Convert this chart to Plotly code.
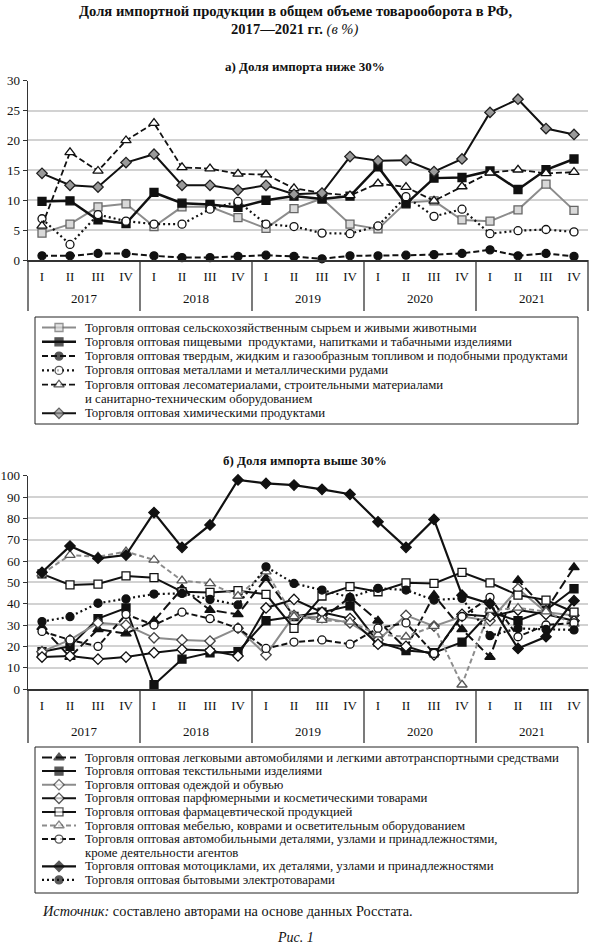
import plotly.graph_objects as go

W, H = 590, 948
FONT = "Liberation Serif"

years = ["2017", "2018", "2019", "2020", "2021"]
quarters = ["I", "II", "III", "IV"]

# ---- Chart a: import share below 30% ----
agri = [4.5, 6.0, 8.9, 9.4, 5.6, 8.9, 8.9, 7.1, 5.3, 8.6, 10.3, 6.0, 5.2, 9.6, 9.9, 6.7, 6.5, 8.4, 12.7, 8.3]
food = [9.8, 9.9, 6.7, 6.1, 11.3, 9.5, 9.3, 8.8, 10.0, 10.7, 10.2, 10.7, 15.6, 9.4, 13.7, 13.8, 14.9, 11.8, 15.1, 16.9]
fuel = [0.7, 0.7, 1.1, 1.1, 0.7, 0.4, 0.4, 0.6, 0.8, 0.6, 0.2, 0.7, 0.7, 0.8, 0.9, 1.1, 1.7, 0.7, 1.1, 0.6]
metals = [6.9, 2.6, 7.6, 6.5, 6.0, 6.0, 8.5, 9.8, 6.0, 5.6, 4.5, 4.4, 5.7, 10.6, 7.3, 8.5, 4.4, 4.9, 5.1, 4.7]
timber = [5.7, 18.0, 14.9, 20.0, 22.9, 15.5, 15.3, 14.4, 14.3, 12.0, 11.2, 10.8, 12.8, 12.2, 9.9, 12.3, 14.6, 15.1, 14.5, 14.7]
chem = [14.5, 12.5, 12.2, 16.3, 17.7, 12.5, 12.5, 11.7, 12.5, 11.0, 11.2, 17.3, 16.6, 16.7, 14.8, 16.9, 24.7, 26.9, 22.0, 21.0]

# ---- Chart b: import share above 30% ----
cars = [29, 15, 28, 26, 32, 47, 37, 35, 52, 34, 33, 43, 32, 19, 44, 28, 15, 51, 37, 57]
textiles = [17.5, 20, 33, 38, 2, 14, 17, 17.5, 32, 34, 36, 39, 22, 18, 17, 22, 36, 32, 37, 47]
clothing = [17.5, 23, 31, 30, 24, 23, 22.5, 28.5, 16, 34.5, 33.5, 31, 23, 34.5, 29.5, 34, 32, 47, 36, 34.5]
perfume = [15, 15.5, 14, 15, 17, 18.5, 18, 15.5, 38, 42, 36, 33, 21, 20, 16, 35, 34, 37, 35, 32]
pharma = [54, 48.8, 49.2, 53, 52.2, 45.6, 45.3, 46.1, 44.4, 28.4, 43.6, 48, 45.6, 49.8, 49.5, 54.7, 49.8, 44, 41.7, 36]
furniture = [54, 62.8, 62, 64.4, 60.5, 50.8, 49.5, 43.6, 55, 34, 32.3, 31.5, 25.5, 24.5, 29.5, 2, 37, 38, 36.3, 30.5]
car_parts = [27, 23, 20, 35, 30, 36, 33, 28.5, 19, 22, 23, 21, 28.5, 31, 16.7, 34, 43, 24.5, 30, 31]
motorcycles = [54.7, 67, 61.3, 62.8, 82.7, 66.4, 76.9, 98, 96.4, 95.6, 93.6, 91.3, 78.4, 66.4, 79.5, 44, 40, 19, 24.5, 41.4]
appliances = [31.6, 33.9, 40.2, 42.2, 44.5, 44.8, 42, 39.4, 57.3, 49.5, 46.4, 43, 47.2, 46.4, 41.7, 42.5, 25, 28.4, 28, 27.7]

names_a = [
    ["Торговля оптовая сельскохозяйственным сырьем и живыми животными"],
    ["Торговля оптовая пищевыми  продуктами, напитками и табачными изделиями"],
    ["Торговля оптовая твердым, жидким и газообразным топливом и подобными продуктами"],
    ["Торговля оптовая металлами и металлическими рудами"],
    ["Торговля оптовая лесоматериалами, строительными материалами",
     "и санитарно-техническим оборудованием"],
    ["Торговля оптовая химическими продуктами"],
]
names_b = [
    ["Торговля оптовая легковыми автомобилями и легкими автотранспортными средствами"],
    ["Торговля оптовая текстильными изделиями"],
    ["Торговля оптовая одеждой и обувью"],
    ["Торговля оптовая парфюмерными и косметическими товарами"],
    ["Торговля оптовая фармацевтической продукцией"],
    ["Торговля оптовая мебелью, коврами и осветительным оборудованием"],
    ["Торговля оптовая автомобильными деталями, узлами и принадлежностями,",
     "кроме деятельности агентов"],
    ["Торговля оптовая мотоциклами, их деталями, узлами и принадлежностями"],
    ["Торговля оптовая бытовыми электротоварами"],
]

BLACK = "#111111"
GRAY = "#8c8c8c"

# style: (line color, line width, dash, marker symbol, marker fill, marker outline)
styles_a = [
    (GRAY, 2, "solid", "square", "#d9d9d9", "#666666"),
    (BLACK, 2.5, "solid", "square", BLACK, BLACK),
    (BLACK, 2, "6px,3px", "circle", BLACK, BLACK),
    (BLACK, 2.2, "2px,3px", "circle", "white", BLACK),
    (BLACK, 1.8, "6px,3px", "triangle-up", "white", BLACK),
    (BLACK, 2, "solid", "diamond", "#9a9a9a", "#222222"),
]
styles_b = [
    (BLACK, 2, "10px,4px", "triangle-up", BLACK, BLACK),
    (BLACK, 2, "solid", "square", BLACK, BLACK),
    (GRAY, 2, "solid", "diamond", "white", "#444444"),
    (BLACK, 2, "solid", "diamond", "white", BLACK),
    (BLACK, 2, "solid", "square", "white", BLACK),
    (GRAY, 2, "5px,3px", "triangle-up", "white", "#555555"),
    (BLACK, 2, "6px,3px", "circle", "white", BLACK),
    (BLACK, 2.2, "solid", "diamond", BLACK, BLACK),
    (BLACK, 2.2, "2px,3px", "circle", BLACK, BLACK),
]

series_a = [agri, food, fuel, metals, timber, chem]
series_b = [cars, textiles, clothing, perfume, pharma, furniture, car_parts, motorcycles, appliances]

qlabels = [q for y in years for q in quarters]
xidx = list(range(len(qlabels)))
NQ = len(quarters)
N = len(qlabels)


def px(x):
    return x / W


def py(y):
    return 1 - y / H


fig = go.Figure()


def msize(sym):
    return 9 if sym == "triangle-up" else 8


def add_series(vals, st, xa, ya, name):
    lc, lw, dash, sym, fill, outline = st
    fig.add_trace(go.Scatter(
        x=xidx, y=vals, xaxis=xa, yaxis=ya, mode="lines+markers", name=name,
        line=dict(color=lc, width=lw, dash=dash),
        marker=dict(symbol=sym, size=msize(sym), color=fill, line=dict(color=outline, width=1.3)),
        showlegend=False, cliponaxis=False,
    ))


for vals, st, nm in zip(series_a, styles_a, names_a):
    add_series(vals, st, "x", "y", " ".join(nm))
for vals, st, nm in zip(series_b, styles_b, names_b):
    add_series(vals, st, "x2", "y2", " ".join(nm))

annotations = []
shapes = []
TXT = 12.8


def build_legend(names, styles, top, step, box):
    x0, y0, x1, y1 = box
    shapes.append(dict(type="rect", xref="paper", yref="paper",
                       x0=px(x0), x1=px(x1), y0=py(y0), y1=py(y1),
                       line=dict(color="#222222", width=1), fillcolor="rgba(0,0,0,0)"))
    row = 0
    for nm, st in zip(names, styles):
        lc, lw, dash, sym, fill, outline = st
        yy = top + row * step
        fig.add_trace(go.Scatter(
            x=[42, 59, 76], y=[yy, yy, yy], xaxis="x3", yaxis="y3", mode="lines+markers",
            line=dict(color=lc, width=lw, dash=dash),
            marker=dict(symbol=sym, size=[0, msize(sym), 0], color=fill,
                        line=dict(color=outline, width=1.3)),
            showlegend=False, hoverinfo="skip", cliponaxis=False,
        ))
        for line_text in nm:
            annotations.append(dict(
                text=line_text, x=px(83), y=py(top + row * step), xref="paper", yref="paper",
                xanchor="left", yanchor="middle", showarrow=False,
                font=dict(family=FONT, size=TXT, color=BLACK)))
            row += 1


build_legend(names_a, styles_a, 327.5, 14.3, (35, 317, 578, 424))
build_legend(names_b, styles_b, 757.5, 13.6, (35, 747, 578, 893))


def category_frame(xa, axis_y, yr_y, bottom_y):
    # year labels and group dividers of the two-level category axis
    for k, yr in enumerate(years):
        annotations.append(dict(
            text=yr, x=(k * NQ + NQ / 2) / N, y=py(yr_y), xref=xa + " domain", yref="paper",
            xanchor="center", yanchor="middle", showarrow=False,
            font=dict(family=FONT, size=13, color=BLACK)))
    for k in range(len(years) + 1):
        shapes.append(dict(type="line", xref=xa + " domain", yref="paper",
                           x0=k * NQ / N, x1=k * NQ / N, y0=py(axis_y), y1=py(bottom_y),
                           line=dict(color="#333333", width=1.3)))


category_frame("x", 260, 298, 311)
category_frame("x2", 689, 731, 743)

title_font = dict(family=FONT, size=14.6, color=BLACK)
annotations += [
    dict(text="<b>Доля импортной продукции в общем объеме товарооборота в РФ,</b>",
         x=0.5, y=py(11), xref="paper", yref="paper", yanchor="middle", showarrow=False, font=title_font),
    dict(text="<b>2017—2021 гг.</b> <i>(в %)</i>",
         x=0.5, y=py(29), xref="paper", yref="paper", yanchor="middle", showarrow=False, font=title_font),
    dict(text="<b>а) Доля импорта ниже 30%</b>", x=px(305), y=py(66), xref="paper", yref="paper",
         yanchor="middle", showarrow=False, font=dict(family=FONT, size=13, color=BLACK)),
    dict(text="<b>б) Доля импорта выше 30%</b>", x=px(305), y=py(460), xref="paper", yref="paper",
         yanchor="middle", showarrow=False, font=dict(family=FONT, size=13, color=BLACK)),
    dict(text="<i>Источник:</i> составлено авторами на основе данных Росстата.",
         x=px(40), y=py(911), xref="paper", yref="paper", xanchor="left", yanchor="middle",
         showarrow=False, font=dict(family=FONT, size=14.3, color=BLACK)),
    dict(text="<i>Рис. 1</i>", x=0.5, y=py(937), xref="paper", yref="paper", yanchor="middle",
         showarrow=False, font=dict(family=FONT, size=14, color=BLACK)),
]

xdom = [px(28), px(588)]
axis_common_x = dict(
    domain=xdom, range=[-0.5, N - 0.5], showline=True, linecolor="#333333",
    linewidth=1.5, showgrid=False, zeroline=False, tickmode="array", tickvals=xidx, ticktext=qlabels,
    ticks="", ticklabelstandoff=4, tickfont=dict(family=FONT, size=13, color=BLACK), fixedrange=True,
)
axis_common_y = dict(
    showline=True, linecolor="#333333", linewidth=1.5, gridcolor="#d2d2d2", gridwidth=2,
    ticks="outside", ticklen=4, tickcolor="#333333", zeroline=False,
    tickfont=dict(family=FONT, size=13, color=BLACK), fixedrange=True,
)

fig.update_layout(
    width=W, height=H, margin=dict(l=0, r=0, t=0, b=0, autoexpand=False),
    paper_bgcolor="white", plot_bgcolor="rgba(0,0,0,0)", showlegend=False,
    xaxis=dict(axis_common_x, anchor="y"),
    yaxis=dict(axis_common_y, anchor="x", domain=[py(260), py(80.7)], range=[0, 30], dtick=5),
    xaxis2=dict(axis_common_x, anchor="y2"),
    yaxis2=dict(axis_common_y, anchor="x2", domain=[py(689), py(475.7)], range=[0, 100], dtick=10),
    xaxis3=dict(domain=[0, 1], anchor="y3", range=[0, W], visible=False, fixedrange=True),
    yaxis3=dict(domain=[0, 1], anchor="x3", range=[H, 0], visible=False, fixedrange=True),
    annotations=annotations, shapes=shapes,
)

fig.write_html("out.html", config={"displayModeBar": False, "staticPlot": True},
               post_script="document.body.style.margin='0';document.body.style.overflow='hidden';")
